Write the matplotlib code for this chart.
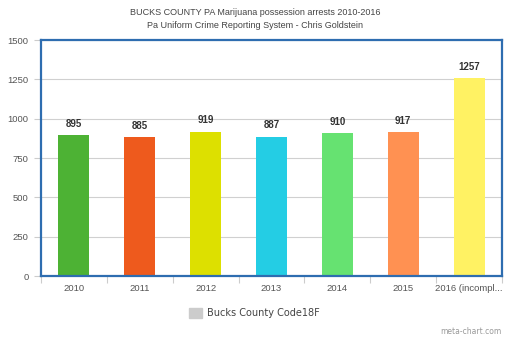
import numpy as np
import matplotlib
matplotlib.use("Agg")
import matplotlib.pyplot as plt

# arrests per year
years = ["2010", "2011", "2012", "2013", "2014", "2015", "2016 (incompl..."]
arrests = [895, 885, 919, 887, 910, 917, 1257]
bar_colors = ["#4db234", "#ee5a1d", "#dde000", "#24cde4", "#66e271", "#ff9152", "#fff263"]
y_ticks = [0, 250, 500, 750, 1000, 1250, 1500]

plt.rcParams["font.family"] = ["Liberation Sans", "DejaVu Sans"]

fig = plt.figure(figsize=(5.1, 3.4), dpi=100)
ax = fig.add_axes([0.0804, 0.188, 0.904, 0.694])

x = np.arange(len(years))
ax.bar(x, arrests, width=0.47, color=bar_colors, zorder=3)

# value labels above each bar
for xi, v in zip(x, arrests):
    ax.text(xi, v + 40, str(v), ha="center", va="bottom", fontsize=7,
            fontweight="bold", color="#333333", zorder=4)

ax.set_xlim(-0.5, len(years) - 0.5)
ax.set_ylim(0, 1500)
ax.set_yticks(y_ticks)
ax.set_yticklabels([str(t) for t in y_ticks], fontsize=6.8, color="#555555")
ax.yaxis.grid(True, color="#d0d0d0", linewidth=0.8, zorder=0)

# category labels centred, separators at the boundaries
ax.set_xticks(x)
ax.set_xticklabels(years, fontsize=6.8, color="#555555")
ax.tick_params(axis="x", length=0, pad=6)
ax.set_xticks(np.arange(len(years) + 1) - 0.5, minor=True)
ax.tick_params(axis="x", which="minor", length=5, color="#cccccc", width=0.8)
ax.tick_params(axis="y", length=5, color="#cccccc", width=0.8, pad=4)

for s in ax.spines.values():
    s.set_color("#2e6db0")
    s.set_linewidth(1.6)
    s.set_zorder(5)

fig.text(0.5, 0.962, "BUCKS COUNTY PA Marijuana possession arrests 2010-2016",
         ha="center", va="center", fontsize=6.5, color="#444444")
fig.text(0.5, 0.924, "Pa Uniform Crime Reporting System - Chris Goldstein",
         ha="center", va="center", fontsize=6.5, color="#444444")

# legend swatch and label
fig.patches.append(plt.Rectangle((0.371, 0.065), 0.026, 0.028, color="#cccccc",
                                 transform=fig.transFigure, figure=fig))
fig.text(0.406, 0.078, "Bucks County Code18F", ha="left", va="center",
         fontsize=7, color="#444444", family="DejaVu Sans")

fig.text(0.983, 0.025, "meta-chart.com", ha="right", va="center",
         fontsize=5.5, color="#999999", family="DejaVu Sans")

fig.savefig("out.png", dpi=100)
